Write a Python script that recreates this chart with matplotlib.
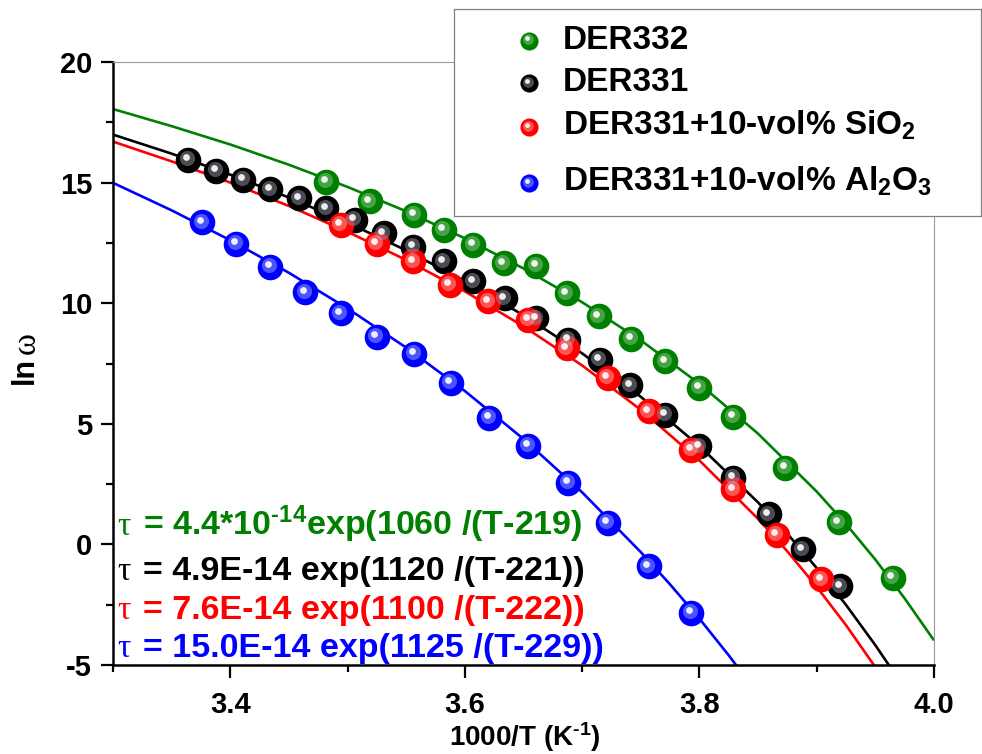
import matplotlib
matplotlib.use('Agg')
import matplotlib.pyplot as plt
from matplotlib.ticker import MultipleLocator
from matplotlib.transforms import offset_copy

# --- data ---
x_der332 = [3.482, 3.519, 3.557, 3.582, 3.607, 3.633, 3.661, 3.687, 3.714, 3.742,
            3.771, 3.800, 3.829, 3.873, 3.919, 3.965]
y_der332 = [15.04, 14.22, 13.66, 13.04, 12.42, 11.66, 11.55, 10.42, 9.45, 8.52,
            7.59, 6.49, 5.30, 3.18, 0.92, -1.38]

x_der331 = [3.364, 3.388, 3.411, 3.434, 3.459, 3.482, 3.506, 3.531, 3.556, 3.582,
            3.607, 3.634, 3.661, 3.688, 3.715, 3.741, 3.771, 3.800, 3.829, 3.859,
            3.888, 3.920]
y_der331 = [15.94, 15.50, 15.11, 14.73, 14.36, 13.94, 13.46, 12.91, 12.35, 11.73,
            10.90, 10.21, 9.38, 8.49, 7.66, 6.60, 5.38, 4.07, 2.76, 1.24,
            -0.21, -1.73]

x_sio2 = [3.494, 3.525, 3.556, 3.587, 3.620, 3.654, 3.687, 3.722, 3.757, 3.793,
          3.829, 3.866, 3.904]
y_sio2 = [13.25, 12.46, 11.73, 10.77, 10.08, 9.32, 8.14, 6.90, 5.52, 3.93,
          2.28, 0.41, -1.45]

x_al2o3 = [3.376, 3.405, 3.434, 3.464, 3.494, 3.525, 3.557, 3.588, 3.621, 3.654,
           3.688, 3.722, 3.757, 3.793]
y_al2o3 = [13.35, 12.46, 11.52, 10.45, 9.59, 8.60, 7.90, 6.70, 5.25, 4.10,
           2.55, 0.90, -0.90, -2.83]

# fitted curves
fit_x_der332 = [3.30, 3.35, 3.40, 3.45, 3.50, 3.55, 3.60, 3.65, 3.70, 3.75, 3.80, 3.85, 3.90, 3.925, 3.95, 3.975, 4.00]
fit_y_der332 = [18.05, 17.34, 16.58, 15.74, 14.82, 13.81, 12.69, 11.44, 10.04, 8.46, 6.66, 4.59, 2.19, 0.84, -0.63, -2.24, -3.98]
fit_x_der331 = [3.30, 3.35, 3.40, 3.45, 3.50, 3.55, 3.60, 3.65, 3.70, 3.75, 3.80, 3.85, 3.875, 3.90, 3.925, 3.95, 3.97]
fit_y_der331 = [16.99, 16.20, 15.33, 14.38, 13.34, 12.19, 10.92, 9.50, 7.92, 6.12, 4.08, 1.74, 0.44, -0.98, -2.51, -4.18, -5.61]
fit_x_sio2 = [3.30, 3.35, 3.40, 3.45, 3.50, 3.55, 3.60, 3.65, 3.70, 3.75, 3.80, 3.85, 3.875, 3.90, 3.925, 3.95]
fit_y_sio2 = [16.70, 15.88, 15.00, 14.03, 12.96, 11.79, 10.49, 9.04, 7.42, 5.58, 3.48, 1.06, -0.29, -1.76, -3.35, -5.09]
fit_x_al2o3 = [3.30, 3.35, 3.40, 3.45, 3.50, 3.55, 3.60, 3.65, 3.70, 3.75, 3.775, 3.80, 3.825, 3.85]
fit_y_al2o3 = [14.99, 13.85, 12.61, 11.26, 9.78, 8.16, 6.36, 4.37, 2.16, -0.32, -1.66, -3.08, -4.60, -6.22]

labels = ['DER332', 'DER331', 'DER331+10-vol% SiO$_2$', 'DER331+10-vol% Al$_2$O$_3$']
colors = ['#008000', '#000000', '#ff0000', '#0000ff']
shines = ['#7fc07f', '#8a8a9a', '#ff9a9a', '#8a9aff']
HY = '\u2010'  # plain hyphen inside mathtext superscripts
fit_texts = ['4.4*10$^{' + HY + '14}$exp(1060 /(T-219)',
             '4.9E-14 exp(1120 /(T-221))',
             '7.6E-14 exp(1100 /(T-222))',
             '15.0E-14 exp(1125 /(T-229))']

plt.rcParams['font.family'] = ['Liberation Sans', 'DejaVu Sans']
plt.rcParams['font.weight'] = 'bold'
plt.rcParams['axes.unicode_minus'] = False
plt.rcParams['mathtext.fontset'] = 'custom'
plt.rcParams['mathtext.rm'] = 'Liberation Sans:bold'
plt.rcParams['mathtext.it'] = 'Liberation Sans:bold'
plt.rcParams['mathtext.bf'] = 'Liberation Sans:bold'

W, H = 982, 754
fig = plt.figure(figsize=(W / 100, H / 100), dpi=100)
ax = fig.add_axes([113 / W, 89 / H, 821 / W, 603 / H])


def balls(a, x, y, color, shine, size):
    # shaded sphere look: base disc + lighter ring + small white spot
    a.scatter(x, y, s=size, color=color, linewidths=0, zorder=3, clip_on=False)
    t1 = offset_copy(a.transData, fig=fig, x=-1.5, y=1.5, units='dots')
    a.scatter(x, y, s=size * 0.35, color=shine, alpha=0.55, linewidths=0,
              zorder=4, transform=t1, clip_on=False)
    t2 = offset_copy(a.transData, fig=fig, x=-2.5, y=2.5, units='dots')
    a.scatter(x, y, s=size * 0.07, color='white', alpha=0.9, linewidths=0,
              zorder=5, transform=t2, clip_on=False)


series = [(x_der332, y_der332, fit_x_der332, fit_y_der332),
          (x_der331, y_der331, fit_x_der331, fit_y_der331),
          (x_sio2, y_sio2, fit_x_sio2, fit_y_sio2),
          (x_al2o3, y_al2o3, fit_x_al2o3, fit_y_al2o3)]

for (xs, ys, fx, fy), c, sh in zip(series, colors, shines):
    ax.plot(fx, fy, color=c, lw=1.9, zorder=2, solid_capstyle='butt')
    balls(ax, xs, ys, c, sh, 340)

ax.set_xlim(3.3, 4.0)
ax.set_ylim(-5, 20)
ax.xaxis.set_minor_locator(MultipleLocator(0.1))
ax.yaxis.set_major_locator(MultipleLocator(5))
ax.yaxis.set_minor_locator(MultipleLocator(2.5))
ax.set_xticks([3.4, 3.6, 3.8, 4.0])
ax.set_xticklabels(['3.4', '3.6', '3.8', '4.0'])

ax.tick_params(which='major', length=9, width=1.6, direction='out', pad=6)
ax.tick_params(which='minor', length=5, width=1.6, direction='out')
ax.tick_params(axis='y', labelsize=21)
ax.tick_params(axis='x', labelsize=21, pad=10)
for lb in ax.get_xticklabels() + ax.get_yticklabels():
    lb.set_weight('bold')

for side in ['left', 'bottom']:
    ax.spines[side].set_linewidth(1.8)
for side in ['top', 'right']:
    ax.spines[side].set_linewidth(0.8)
    ax.spines[side].set_color('#9a9a9a')

# x label placed by hand so it stays inside the canvas
fig.text(525 / W, 1 - 746 / H, '1000/T (K$^{' + HY + '1}$)', fontsize=20,
         fontweight='bold', ha='center', va='baseline')

# y label: "ln" in bold sans, omega in serif
fig.text(25 / W, 1 - 384 / H, 'ln', rotation=90, ha='center', va='bottom',
         fontsize=22, fontweight='bold')
fig.text(27 / W, 1 - 354 / H, 'ω', rotation=90, ha='center', va='bottom',
         fontsize=24, fontweight='normal', family='Liberation Serif')

# fit equations
baselines = [535, 580, 619, 657]
for txt, c, yb in zip(fit_texts, colors, baselines):
    fig.text(117 / W, 1 - yb / H, 'τ', color=c, fontsize=24, fontweight='normal',
             family='Liberation Serif', va='baseline', ha='left')
    fig.text(143 / W, 1 - yb / H, '= ' + txt, color=c, fontsize=24.5,
             fontweight='bold', va='baseline', ha='left')

# legend box (drawn on top of the frame)
lax = fig.add_axes([454 / W, 1 - 216 / H, 527 / W, 207 / H], zorder=10)
lax.set_xlim(0, 527)
lax.set_ylim(207, 0)
lax.set_xticks([])
lax.set_yticks([])
lax.set_facecolor('white')
for s in lax.spines.values():
    s.set_color('#808080')
    s.set_linewidth(0.9)
rows_ball = [31.6, 74, 118, 174]
rows_text = [40, 82, 126, 182]
for lab, c, sh, yb, yt in zip(labels, colors, shines, rows_ball, rows_text):
    balls(lax, [75], [yb], c, sh, 170)
    lax.text(109, yt, lab, fontsize=24, fontweight='bold', va='baseline', ha='left')

fig.savefig('out.png', dpi=100)
